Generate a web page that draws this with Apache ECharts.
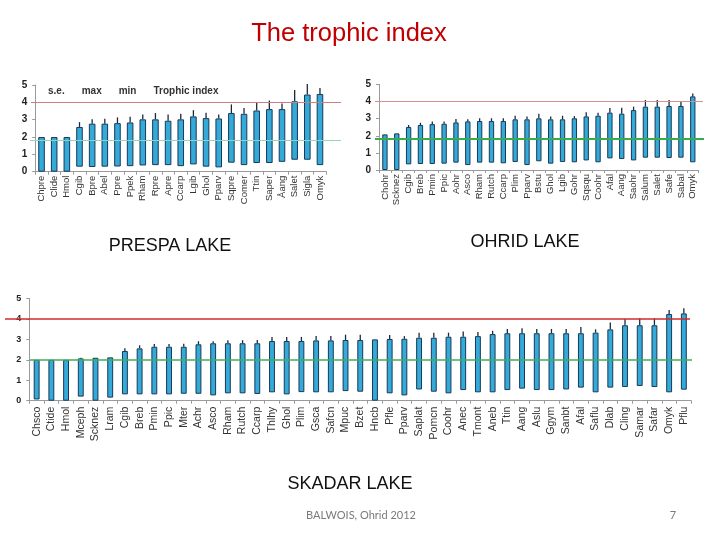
<!DOCTYPE html>
<html><head><meta charset="utf-8">
<script src="https://cdn.jsdelivr.net/npm/echarts@6/dist/echarts.min.js"></script>
<style>html,body{margin:0;padding:0;background:#fff}#c{width:720px;height:540px}</style>
</head><body><div id="c"></div>
<script>
// ---------- DATA ----------
const prespaCats = ['Chpre','Clide','Hmol','Cgib','Bpre','Abel','Ppre','Ppek','Rham','Rpre','Apre','Ccarp','Lgib','Ghol','Pparv','Sqpre','Comer','Ttin','Saper','Åang','Salet','Sigla','Omyk'];
const prespaMin = [0,0,0,0.29,0.27,0.29,0.30,0.32,0.36,0.38,0.38,0.32,0.42,0.29,0.25,0.52,0.38,0.50,0.50,0.57,0.69,0.69,0.38];
const prespaMax = [2.0,2.0,2.0,2.58,2.77,2.77,2.80,2.84,3.02,3.02,2.94,3.02,3.19,3.09,3.07,3.38,3.34,3.53,3.61,3.61,4.06,4.45,4.48];
const prespaSE  = [0,0,0,0.28,0.26,0.28,0.33,0.33,0.28,0.36,0.36,0.32,0.36,0.31,0.23,0.50,0.34,0.47,0.50,0.32,0.65,0.61,0.35];
const prespaThresholds = [4, 1.82];

const ohridCats = ['Chohr','Scknez','Cgib','Breb','Pmin','Ppic','Aohr','Asco','Rham','Rutch','Ccarp','Plim','Pparv','Bstu','Ghol','Lgib','Gohr','Sqsqu','Coohr','Afal','Aang','Saohr','Salum','Salet','Safe','Sabal','Omyk'];
const ohridMin = [0,0,0.33,0.35,0.35,0.37,0.43,0.29,0.43,0.43,0.39,0.47,0.29,0.51,0.37,0.47,0.45,0.56,0.45,0.68,0.64,0.56,0.72,0.72,0.70,0.72,0.45];
const ohridMax = [2.08,2.14,2.51,2.63,2.68,2.70,2.78,2.84,2.86,2.86,2.86,2.96,2.96,3.02,2.96,2.96,3.02,3.13,3.17,3.35,3.29,3.50,3.70,3.70,3.74,3.74,4.30];
const ohridSE  = [0,0,0.12,0.13,0.16,0.14,0.20,0.12,0.16,0.16,0.16,0.21,0.17,0.27,0.17,0.21,0.13,0.24,0.18,0.27,0.35,0.20,0.39,0.39,0.35,0.29,0.17];
const ohridThresholds = [4, 1.84];

const skadarCats = ['Chsco','Ctide','Hmol','Mceph','Scknez','Lram','Cgib','Breb','Pmin','Ppic','Mter','Achr','Asco','Rham','Rutch','Ccarp','Thlhy','Ghol','Plim','Gsca','Safcn','Mpuc','Bzet','Hncb','Pfle','Pparv','Saplat','Pomcn','Coohr','Anec','Tmont','Aneb','Ttin','Aang','Aslu','Ggym','Sanbt','Afal','Saflu','Dlab','Cling','Samar','Safar','Omyk','Pflu'];
const skadarMin = [0.06,0,0,0.20,0,0.15,0.31,0.31,0.31,0.31,0.34,0.34,0.26,0.36,0.36,0.33,0.41,0.31,0.42,0.41,0.41,0.47,0.44,0,0.36,0.26,0.55,0.44,0.36,0.52,0.41,0.41,0.52,0.59,0.52,0.52,0.55,0.64,0.41,0.64,0.67,0.72,0.67,0.41,0.54];
const skadarMax = [2.0,2.0,2.0,2.07,2.10,2.12,2.43,2.56,2.64,2.64,2.64,2.76,2.81,2.81,2.81,2.81,2.92,2.92,2.92,2.95,2.95,2.97,2.97,3.0,3.02,3.03,3.08,3.08,3.13,3.13,3.16,3.26,3.30,3.30,3.30,3.30,3.30,3.30,3.33,3.49,3.69,3.69,3.69,4.24,4.27];
const skadarSE  = [0,0,0,0.03,0,0,0.13,0.15,0.13,0.13,0.15,0.15,0.10,0.15,0.15,0.16,0.20,0.20,0.20,0.21,0.21,0.26,0.26,0,0.20,0.13,0.25,0.25,0.20,0.26,0.20,0.16,0.21,0.24,0.21,0.21,0.21,0.30,0.16,0.33,0.31,0.34,0.34,0.20,0.25];
const skadarThresholds = [4, 2.0];

const yTicks = [0, 1, 2, 3, 4, 5];
const legendNames = ['s.e.', 'max', 'min', 'Trophic index'];

// ---------- LAYOUT / STYLE ----------
const panels = [
  {cats: prespaCats, mn: prespaMin, mx: prespaMax, se: prespaSE, thr: prespaThresholds,
   grid: {left: 35.2, top: 85, width: 291.1, height: 86.7}, barW: '52%', xFont: 9.5, yFont: 10, xMargin: 4,
   red: {left: 31, width: 310, color: '#c9807c', w: 1}, green: {left: 30, width: 311, color: '#93d3b8', w: 1}},
  {cats: ohridCats, mn: ohridMin, mx: ohridMax, se: ohridSE, thr: ohridThresholds,
   grid: {left: 379, top: 84.4, width: 319.7, height: 85.6}, barW: '45%', xFont: 9.5, yFont: 10, xMargin: 4,
   red: {left: 375, width: 328, color: '#d39090', w: 1}, green: {left: 375, width: 329, color: '#3aab4a', w: 1.8}},
  {cats: skadarCats, mn: skadarMin, mx: skadarMax, se: skadarSE, thr: skadarThresholds,
   grid: {left: 29.3, top: 298.5, width: 661.9, height: 102.2}, barW: '40%', xFont: 10.5, yFont: 9, xMargin: 6,
   red: {left: 5, width: 685, color: '#d22a2a', w: 1.5}, green: {left: 30, width: 662, color: '#3fae5a', w: 1.5}}
];

const grids = [], xAxes = [], yAxes = [], series = [];
panels.forEach((p, k) => {
  const gi = grids.length;
  grids.push(Object.assign({containLabel: false}, p.grid));
  xAxes.push({type: 'category', gridIndex: gi, data: p.cats, boundaryGap: true,
    axisLine: {lineStyle: {color: '#9a9a9a'}},
    axisTick: {show: true, length: 3, lineStyle: {color: '#9a9a9a'}},
    axisLabel: {interval: 0, rotate: 90, fontSize: p.xFont, color: '#333', margin: p.xMargin, fontFamily: 'Liberation Sans, Arial, sans-serif'}});
  yAxes.push({type: 'value', gridIndex: gi, min: yTicks[0], max: yTicks[yTicks.length - 1], interval: 1,
    axisLine: {show: true, lineStyle: {color: '#9a9a9a'}},
    axisTick: {show: true, length: 3, lineStyle: {color: '#9a9a9a'}},
    splitLine: {show: false},
    axisLabel: {fontSize: p.yFont, fontWeight: 'bold', color: '#222', margin: 8, fontFamily: 'Liberation Sans, Arial, sans-serif'}});
  const stack = 'range' + k;
  series.push({name: 'min', type: 'bar', xAxisIndex: gi, yAxisIndex: gi, stack: stack, barWidth: p.barW,
    data: p.mn, itemStyle: {color: 'rgba(0,0,0,0)'}, silent: true, z: 2});
  series.push({name: 'max', type: 'bar', xAxisIndex: gi, yAxisIndex: gi, stack: stack, barWidth: p.barW,
    data: p.mx.map((v, i) => +(v - p.mn[i]).toFixed(3)),
    itemStyle: {color: '#35a9d8', borderColor: '#173a58', borderWidth: 1}, silent: true, z: 2});
  series.push({name: 's.e.', type: 'custom', xAxisIndex: gi, yAxisIndex: gi, z: 3, silent: true,
    data: p.mx.map((v, i) => [i, v, p.se[i]]),
    renderItem: function (params, api) {
      const s = api.value(2);
      if (!s) return null;
      const a = api.coord([api.value(0), api.value(1)]);
      const b = api.coord([api.value(0), api.value(1) + s]);
      return {type: 'line', shape: {x1: a[0], y1: a[1], x2: b[0], y2: b[1]},
        style: {stroke: '#1b2a3a', lineWidth: 1.3}};
    }});
  if (k === 0) {
    series.push({name: 'Trophic index', type: 'line', xAxisIndex: gi, yAxisIndex: gi, data: [], silent: true});
  }
  // threshold line overlays
  [['red', p.thr[0], 1], ['green', p.thr[1], 6]].forEach(([key, val, z]) => {
    const o = p[key];
    const oi = grids.length;
    grids.push({left: o.left, width: o.width, top: p.grid.top, height: p.grid.height});
    xAxes.push({type: 'value', gridIndex: oi, min: 0, max: 1, show: false});
    yAxes.push({type: 'value', gridIndex: oi, min: yTicks[0], max: yTicks[yTicks.length - 1], show: false});
    series.push({type: 'line', xAxisIndex: oi, yAxisIndex: oi, data: [], z: z, silent: true,
      markLine: {silent: true, symbol: 'none', label: {show: false}, animation: false,
        lineStyle: {color: o.color, width: o.w, type: 'solid'}, emphasis: {disabled: true},
        data: [{yAxis: val}]}});
  });
});

const chart = echarts.init(document.getElementById('c'), null, {renderer: 'canvas'});
chart.setOption({
  animation: false,
  backgroundColor: '#ffffff',
  grid: grids, xAxis: xAxes, yAxis: yAxes, series: series,
  legend: {data: legendNames, icon: 'none', itemWidth: 1, itemHeight: 10, itemGap: 11,
    left: 37, top: 81, selectedMode: false,
    textStyle: {fontSize: 10, fontWeight: 'bold', color: '#333', fontFamily: 'Liberation Sans, Arial, sans-serif'}},
  graphic: [
    {type: 'text', x: 349, y: 34, style: {text: 'The trophic index', fill: '#c00000', font: '25.5px "Liberation Sans", Arial, sans-serif', textAlign: 'center', textVerticalAlign: 'middle'}},
    {type: 'text', x: 170, y: 246, style: {text: 'PRESPA LAKE', fill: '#111', font: '18px "Liberation Sans", Arial, sans-serif', textAlign: 'center', textVerticalAlign: 'middle'}},
    {type: 'text', x: 525, y: 242, style: {text: 'OHRID LAKE', fill: '#111', font: '18px "Liberation Sans", Arial, sans-serif', textAlign: 'center', textVerticalAlign: 'middle'}},
    {type: 'text', x: 350, y: 484, style: {text: 'SKADAR LAKE', fill: '#111', font: '18px "Liberation Sans", Arial, sans-serif', textAlign: 'center', textVerticalAlign: 'middle'}},
    {type: 'text', x: 361, y: 515, style: {text: 'BALWOIS, Ohrid 2012', fill: '#7a7a7a', font: '11px Lato, sans-serif', textAlign: 'center', textVerticalAlign: 'middle'}},
    {type: 'text', x: 673, y: 515, style: {text: '7', fill: '#7a7a7a', font: '11px Lato, sans-serif', textAlign: 'center', textVerticalAlign: 'middle'}}
  ]
});
</script>
</body></html>
